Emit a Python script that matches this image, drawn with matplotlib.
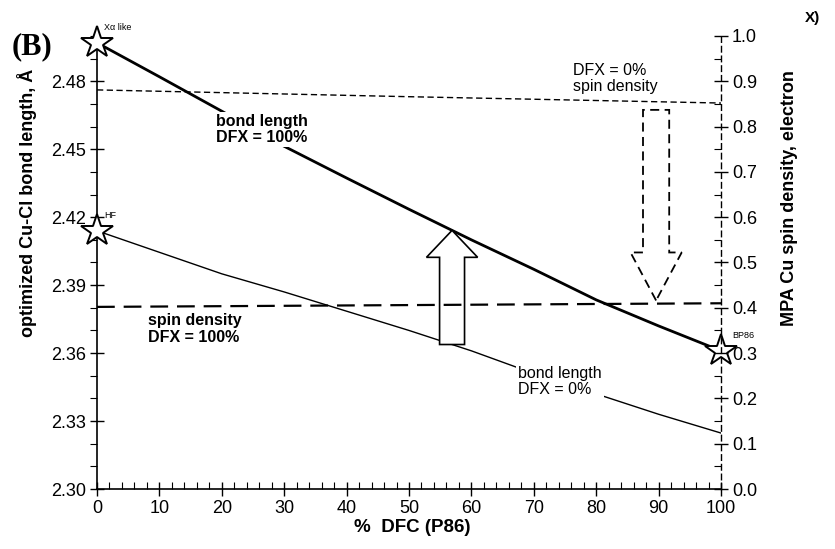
import numpy as np
import matplotlib
matplotlib.use("Agg")
import matplotlib.pyplot as plt
from matplotlib.patches import FancyArrow
from matplotlib.ticker import MultipleLocator, FormatStrFormatter

plt.rcParams['font.family'] = ['Liberation Sans', 'DejaVu Sans']

# ---- data ----
dfc = [0, 10, 20, 30, 40, 50, 60, 70, 80, 90, 100]
bond_dfx100 = [2.497, 2.482, 2.4668, 2.4513, 2.4373, 2.4235, 2.410, 2.397, 2.3835, 2.372, 2.361]
bond_dfx0 = [2.414, 2.4045, 2.395, 2.387, 2.3785, 2.370, 2.361, 2.351, 2.342, 2.333, 2.3247]
spin_dfc = [0, 50, 100]
spin_dfx0 = [0.881, 0.866, 0.852]
spin_dfx100 = [0.402, 0.406, 0.410]
star_labels = ["X\u03b1 like", "HF", "BP86"]
x_up_arrow = 56.9
x_down_arrow = 89.6

fig = plt.figure(figsize=(8.35, 5.49), dpi=100)
ax = fig.add_axes([97/835, 1-489/549, (721-97)/835, (489-36)/549])
ax2 = ax.twinx()

ax.set_xlim(0, 100)
ax.set_ylim(2.30, 2.50)
ax2.set_ylim(0.0, 1.0)

# main lines
ax.plot(dfc, bond_dfx100, color='black', lw=2.0, zorder=3)
ax.plot(dfc, bond_dfx0, color='black', lw=1.0, zorder=3)
l1, = ax2.plot(spin_dfc, spin_dfx0, color='black', lw=1.0, zorder=2)
l1.set_dashes([4.5, 2.5])
l2, = ax2.plot(spin_dfc, spin_dfx100, color='black', lw=1.6, zorder=2)
l2.set_dashes([8, 4])

# stars
star_kw = dict(marker='*', ms=24, mfc='white', mec='black', mew=1.4,
               ls='none', clip_on=False, zorder=6)
ax.plot([dfc[0]], [bond_dfx100[0]], **star_kw)
ax.plot([dfc[0]], [bond_dfx0[0]], **star_kw)
ax.plot([dfc[-1]], [bond_dfx100[-1]], **star_kw)
ax.text(dfc[0] + 1.2, bond_dfx100[0] + 0.0055, star_labels[0], fontsize=6.5, zorder=7)
ax.text(dfc[0] + 1.2, bond_dfx0[0] + 0.0055, star_labels[1], fontsize=6.5, zorder=7)
ax.text(dfc[-1] + 1.8, bond_dfx100[-1] + 0.0055, star_labels[2], fontsize=6.5, zorder=7,
        clip_on=False)

# up arrow (solid outline)
y_bot = np.interp(x_up_arrow, dfc, bond_dfx0)
y_top = np.interp(x_up_arrow, dfc, bond_dfx100)
arr = FancyArrow(x_up_arrow, y_bot, 0, y_top - y_bot, width=4.0, head_width=8.2,
                 head_length=0.0119, length_includes_head=True,
                 facecolor='white', edgecolor='black', lw=1.2, zorder=5)
ax.add_patch(arr)

# down arrow (dashed outline) in spin units
s_top = np.interp(x_down_arrow, spin_dfc, spin_dfx0) - 0.018
s_bot = np.interp(x_down_arrow, spin_dfc, spin_dfx100) + 0.007
arr2 = FancyArrow(x_down_arrow, s_top, 0, s_bot - s_top, width=4.2, head_width=8.2,
                  head_length=0.106, length_includes_head=True,
                  facecolor='white', edgecolor='black', lw=1.3, ls=(0, (5, 3)), zorder=5)
ax2.add_patch(arr2)

# annotation texts with white boxes to interrupt lines
box = dict(facecolor='white', edgecolor='none', pad=1.5)
ax.text(19.0, 2.4655, "bond length\nDFX = 100%", fontsize=11.5, fontweight='bold',
        va='top', ha='left', linespacing=1.1, bbox=box, zorder=4)
ax.text(8.2, 2.3775, "spin density\nDFX = 100%", fontsize=11.5, fontweight='bold',
        va='top', ha='left', linespacing=1.1, zorder=4)
ax.text(67.5, 2.3545, "bond length\nDFX = 0%", fontsize=11.5,
        va='top', ha='left', linespacing=1.1, bbox=box, zorder=4)
ax.text(76.3, 2.488, "DFX = 0%\nspin density", fontsize=11.5,
        va='top', ha='left', linespacing=1.1, zorder=4)

# axes styling
for sp in ['top', 'right']:
    ax.spines[sp].set_visible(False)
for sp in ['top', 'left', 'bottom']:
    ax2.spines[sp].set_visible(False)
ax2.spines['right'].set_linestyle((0, (4, 3)))
ax2.spines['right'].set_linewidth(1.0)
ax.spines['left'].set_linewidth(1.2)
ax.spines['bottom'].set_linewidth(1.2)

ax.xaxis.set_major_locator(MultipleLocator(10))
ax.xaxis.set_minor_locator(MultipleLocator(2))
ax.set_yticks(np.arange(2.30, 2.481, 0.03))
ax.yaxis.set_minor_locator(MultipleLocator(0.01))
ax.yaxis.set_major_formatter(FormatStrFormatter('%.2f'))
ax2.yaxis.set_major_locator(MultipleLocator(0.1))
ax2.yaxis.set_minor_locator(MultipleLocator(0.05))
ax2.yaxis.set_major_formatter(FormatStrFormatter('%.1f'))

ax.tick_params(axis='both', which='major', direction='inout', length=10, width=1.0,
               labelsize=13, pad=3)
ax.tick_params(axis='both', which='minor', direction='in', length=5, width=0.8)
ax.tick_params(axis='y', which='minor', direction='out', length=5)
ax2.tick_params(axis='y', which='major', direction='inout', length=10, width=1.0,
                labelsize=13, pad=3)
ax2.tick_params(axis='y', which='minor', direction='in', length=5, width=0.8)

ax.set_xlabel("%  DFC (P86)", fontsize=13.5, fontweight='bold')
ax.xaxis.set_label_coords((412 - 97) / 624, -(527 - 489) / 453)
ax.set_ylabel("optimized Cu-Cl bond length, \u00c5", fontsize=13, fontweight='bold')
ax.yaxis.set_label_coords((27 - 97) / 624, (489 - 203) / 453)
ax2.set_ylabel("MPA Cu spin density, electron", fontsize=13, fontweight='bold')
ax2.yaxis.set_label_coords((790 - 97) / 624, (489 - 198) / 453)
ax.xaxis.label.set_va('center')
ax.yaxis.label.set_va('center')
ax2.yaxis.label.set_va('center')

fig.text(12/835, 1-54/549, "(B)", fontsize=22, fontweight='bold', family='Liberation Serif')
fig.text(805/835, 1-22/549, "X)", fontsize=11, fontweight='bold')

fig.savefig("out.png", dpi=100, facecolor='white')
